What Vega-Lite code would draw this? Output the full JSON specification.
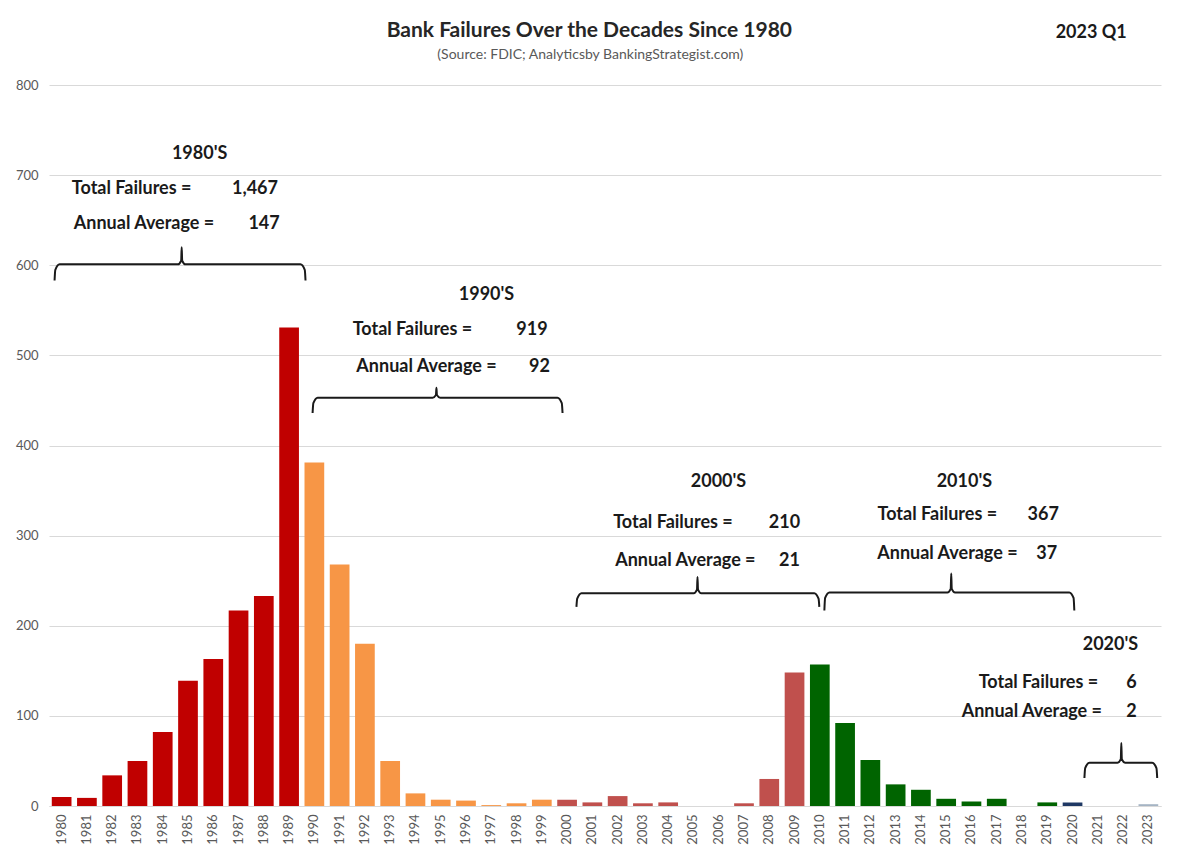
{
  "$schema": "https://vega.github.io/schema/vega-lite/v6.json",
  "width": 1112,
  "height": 721,
  "autosize": {"type": "none"},
  "padding": {"left": 49, "top": 85, "right": 17, "bottom": 57},
  "background": "white",
  "config": {"font": "Lato", "view": {"stroke": null}},
  "layer": [
    {
      "data": {"values": [
        {"year": "1980", "failures": 10, "period": "1980s"},
        {"year": "1981", "failures": 9, "period": "1980s"},
        {"year": "1982", "failures": 34, "period": "1980s"},
        {"year": "1983", "failures": 50, "period": "1980s"},
        {"year": "1984", "failures": 82, "period": "1980s"},
        {"year": "1985", "failures": 139, "period": "1980s"},
        {"year": "1986", "failures": 163, "period": "1980s"},
        {"year": "1987", "failures": 217, "period": "1980s"},
        {"year": "1988", "failures": 233, "period": "1980s"},
        {"year": "1989", "failures": 531, "period": "1980s"},
        {"year": "1990", "failures": 381, "period": "1990s"},
        {"year": "1991", "failures": 268, "period": "1990s"},
        {"year": "1992", "failures": 180, "period": "1990s"},
        {"year": "1993", "failures": 50, "period": "1990s"},
        {"year": "1994", "failures": 14, "period": "1990s"},
        {"year": "1995", "failures": 7, "period": "1990s"},
        {"year": "1996", "failures": 6, "period": "1990s"},
        {"year": "1997", "failures": 1, "period": "1990s"},
        {"year": "1998", "failures": 3, "period": "1990s"},
        {"year": "1999", "failures": 7, "period": "1990s"},
        {"year": "2000", "failures": 7, "period": "2000s"},
        {"year": "2001", "failures": 4, "period": "2000s"},
        {"year": "2002", "failures": 11, "period": "2000s"},
        {"year": "2003", "failures": 3, "period": "2000s"},
        {"year": "2004", "failures": 4, "period": "2000s"},
        {"year": "2005", "failures": 0, "period": "2000s"},
        {"year": "2006", "failures": 0, "period": "2000s"},
        {"year": "2007", "failures": 3, "period": "2000s"},
        {"year": "2008", "failures": 30, "period": "2000s"},
        {"year": "2009", "failures": 148, "period": "2000s"},
        {"year": "2010", "failures": 157, "period": "2010s"},
        {"year": "2011", "failures": 92, "period": "2010s"},
        {"year": "2012", "failures": 51, "period": "2010s"},
        {"year": "2013", "failures": 24, "period": "2010s"},
        {"year": "2014", "failures": 18, "period": "2010s"},
        {"year": "2015", "failures": 8, "period": "2010s"},
        {"year": "2016", "failures": 5, "period": "2010s"},
        {"year": "2017", "failures": 8, "period": "2010s"},
        {"year": "2018", "failures": 0, "period": "2010s"},
        {"year": "2019", "failures": 4, "period": "2010s"},
        {"year": "2020", "failures": 4, "period": "2020s"},
        {"year": "2021", "failures": 0, "period": "2020s"},
        {"year": "2022", "failures": 0, "period": "2020s"},
        {"year": "2023", "failures": 2, "period": "2023 Q1"}
      ]},
      "mark": {"type": "bar"},
      "encoding": {
        "x": {
          "field": "year", "type": "ordinal",
          "scale": {"paddingInner": 0.22, "paddingOuter": 0.11},
          "axis": {
            "title": null, "labelAngle": -90, "labelFontSize": 13, "labelColor": "#595959",
            "labelFont": "Lato", "ticks": false, "domain": true, "domainColor": "#d9d9d9",
            "labelPadding": 8, "grid": false
          }
        },
        "y": {
          "field": "failures", "type": "quantitative",
          "scale": {"domain": [0, 800], "nice": false},
          "axis": {
            "title": null, "values": [0, 100, 200, 300, 400, 500, 600, 700, 800],
            "labelFontSize": 13, "labelColor": "#595959", "labelFont": "Lato",
            "ticks": false, "domain": false, "labelPadding": 11,
            "gridColor": "#d9d9d9", "gridWidth": 1
          }
        },
        "color": {
          "field": "period", "type": "nominal", "legend": null,
          "scale": {
            "domain": ["1980s", "1990s", "2000s", "2010s", "2020s", "2023 Q1"],
            "range": ["#C00000", "#F79646", "#C0504D", "#006400", "#1F3864", "#A5B4C4"]
          }
        }
      }
    },
    {
      "data": {"values": [
        {"brace": "1980s", "x": 1979.72, "y": 583}, {"brace": "1980s", "x": 1979.75, "y": 595}, {"brace": "1980s", "x": 1979.92, "y": 601},
        {"brace": "1980s", "x": 1984.6, "y": 601}, {"brace": "1980s", "x": 1984.73, "y": 605}, {"brace": "1980s", "x": 1984.75, "y": 620},
        {"brace": "1980s", "x": 1984.77, "y": 605}, {"brace": "1980s", "x": 1984.9, "y": 601}, {"brace": "1980s", "x": 1989.45, "y": 601},
        {"brace": "1980s", "x": 1989.62, "y": 595}, {"brace": "1980s", "x": 1989.65, "y": 583},
        {"brace": "1990s", "x": 1989.93, "y": 436}, {"brace": "1990s", "x": 1989.96, "y": 447}, {"brace": "1990s", "x": 1990.13, "y": 453},
        {"brace": "1990s", "x": 1994.68, "y": 453}, {"brace": "1990s", "x": 1994.81, "y": 456}, {"brace": "1990s", "x": 1994.83, "y": 464},
        {"brace": "1990s", "x": 1994.85, "y": 456}, {"brace": "1990s", "x": 1994.98, "y": 453}, {"brace": "1990s", "x": 1999.62, "y": 453},
        {"brace": "1990s", "x": 1999.79, "y": 447}, {"brace": "1990s", "x": 1999.82, "y": 436},
        {"brace": "2000s", "x": 2000.37, "y": 221}, {"brace": "2000s", "x": 2000.40, "y": 230}, {"brace": "2000s", "x": 2000.57, "y": 236},
        {"brace": "2000s", "x": 2005.01, "y": 236}, {"brace": "2000s", "x": 2005.14, "y": 240}, {"brace": "2000s", "x": 2005.16, "y": 254},
        {"brace": "2000s", "x": 2005.18, "y": 240}, {"brace": "2000s", "x": 2005.31, "y": 236}, {"brace": "2000s", "x": 2009.78, "y": 236},
        {"brace": "2000s", "x": 2009.95, "y": 230}, {"brace": "2000s", "x": 2009.98, "y": 221},
        {"brace": "2010s", "x": 2010.18, "y": 217}, {"brace": "2010s", "x": 2010.21, "y": 231}, {"brace": "2010s", "x": 2010.38, "y": 237},
        {"brace": "2010s", "x": 2015.05, "y": 237}, {"brace": "2010s", "x": 2015.18, "y": 241}, {"brace": "2010s", "x": 2015.20, "y": 258},
        {"brace": "2010s", "x": 2015.22, "y": 241}, {"brace": "2010s", "x": 2015.35, "y": 237}, {"brace": "2010s", "x": 2019.87, "y": 237},
        {"brace": "2010s", "x": 2020.04, "y": 231}, {"brace": "2010s", "x": 2020.07, "y": 217},
        {"brace": "2020s", "x": 2020.47, "y": 31}, {"brace": "2020s", "x": 2020.50, "y": 42}, {"brace": "2020s", "x": 2020.67, "y": 48},
        {"brace": "2020s", "x": 2021.78, "y": 48}, {"brace": "2020s", "x": 2021.91, "y": 52}, {"brace": "2020s", "x": 2021.93, "y": 70},
        {"brace": "2020s", "x": 2021.95, "y": 52}, {"brace": "2020s", "x": 2022.08, "y": 48}, {"brace": "2020s", "x": 2023.15, "y": 48},
        {"brace": "2020s", "x": 2023.32, "y": 42}, {"brace": "2020s", "x": 2023.35, "y": 31}
      ]},
      "mark": {"type": "line", "color": "#1a1a1a", "strokeWidth": 2, "interpolate": "monotone"},
      "encoding": {
        "x": {"field": "x", "type": "quantitative", "scale": {"domain": [1979.5, 2023.5], "nice": false, "zero": false}, "axis": null},
        "y": {"field": "y", "type": "quantitative", "scale": {"domain": [0, 800], "nice": false},
          "axis": {
            "title": null, "values": [0, 100, 200, 300, 400, 500, 600, 700, 800],
            "labelFontSize": 13, "labelColor": "#595959", "labelFont": "Lato",
            "ticks": false, "domain": false, "labelPadding": 11,
            "gridColor": "#d9d9d9", "gridWidth": 1
          }},
        "detail": {"field": "brace", "type": "nominal"}
      }
    },
    {
      "data": {"values": [
        {"x": 1985.46, "y": 723.4, "label": "1980'S"},
        {"x": 1982.77, "y": 685.0, "label": "Total Failures ="},
        {"x": 1987.65, "y": 685.0, "label": "1,467"},
        {"x": 1983.26, "y": 646.2, "label": "Annual Average ="},
        {"x": 1988.01, "y": 646.2, "label": "147"},
        {"x": 1996.81, "y": 567.0, "label": "1990'S"},
        {"x": 1993.88, "y": 528.1, "label": "Total Failures ="},
        {"x": 1998.61, "y": 528.1, "label": "919"},
        {"x": 1994.44, "y": 487.1, "label": "Annual Average ="},
        {"x": 1998.91, "y": 487.1, "label": "92"},
        {"x": 2005.99, "y": 359.5, "label": "2000'S"},
        {"x": 2004.19, "y": 314.0, "label": "Total Failures ="},
        {"x": 2008.60, "y": 314.0, "label": "210"},
        {"x": 2004.68, "y": 271.8, "label": "Annual Average ="},
        {"x": 2008.80, "y": 271.8, "label": "21"},
        {"x": 2015.72, "y": 359.5, "label": "2010'S"},
        {"x": 2014.65, "y": 322.9, "label": "Total Failures ="},
        {"x": 2018.84, "y": 322.9, "label": "367"},
        {"x": 2015.05, "y": 279.6, "label": "Annual Average ="},
        {"x": 2018.98, "y": 279.6, "label": "37"},
        {"x": 2021.50, "y": 178.6, "label": "2020'S"},
        {"x": 2018.65, "y": 136.5, "label": "Total Failures ="},
        {"x": 2022.33, "y": 136.5, "label": "6"},
        {"x": 2018.39, "y": 104.3, "label": "Annual Average ="},
        {"x": 2022.33, "y": 104.3, "label": "2"},
        {"x": 2020.74, "y": 857.6, "label": "2023    Q1"}
      ]},
      "mark": {"type": "text", "font": "Lato", "fontSize": 18, "fontWeight": "bold", "color": "#1a1a1a", "align": "center", "baseline": "middle"},
      "encoding": {
        "x": {"field": "x", "type": "quantitative", "scale": {"domain": [1979.5, 2023.5], "nice": false, "zero": false}, "axis": null},
        "y": {"field": "y", "type": "quantitative", "scale": {"domain": [0, 800], "nice": false},
          "axis": {
            "title": null, "values": [0, 100, 200, 300, 400, 500, 600, 700, 800],
            "labelFontSize": 13, "labelColor": "#595959", "labelFont": "Lato",
            "ticks": false, "domain": false, "labelPadding": 11,
            "gridColor": "#d9d9d9", "gridWidth": 1
          }},
        "text": {"field": "label", "type": "nominal"}
      }
    },
    {
      "data": {"values": [
        {"x": 2000.88, "y": 859.9, "label": "Bank Failures Over the Decades Since 1980"}
      ]},
      "mark": {"type": "text", "font": "Lato", "fontSize": 21, "fontWeight": "bold", "color": "#262626", "align": "center", "baseline": "middle"},
      "encoding": {
        "x": {"field": "x", "type": "quantitative", "scale": {"domain": [1979.5, 2023.5], "nice": false, "zero": false}, "axis": null},
        "y": {"field": "y", "type": "quantitative", "scale": {"domain": [0, 800], "nice": false},
          "axis": {
            "title": null, "values": [0, 100, 200, 300, 400, 500, 600, 700, 800],
            "labelFontSize": 13, "labelColor": "#595959", "labelFont": "Lato",
            "ticks": false, "domain": false, "labelPadding": 11,
            "gridColor": "#d9d9d9", "gridWidth": 1
          }},
        "text": {"field": "label", "type": "nominal"}
      }
    },
    {
      "data": {"values": [
        {"x": 2000.92, "y": 833.2, "label": "(Source: FDIC; Analyticsby BankingStrategist.com)"}
      ]},
      "mark": {"type": "text", "font": "Lato", "fontSize": 14, "color": "#595959", "align": "center", "baseline": "middle"},
      "encoding": {
        "x": {"field": "x", "type": "quantitative", "scale": {"domain": [1979.5, 2023.5], "nice": false, "zero": false}, "axis": null},
        "y": {"field": "y", "type": "quantitative", "scale": {"domain": [0, 800], "nice": false},
          "axis": {
            "title": null, "values": [0, 100, 200, 300, 400, 500, 600, 700, 800],
            "labelFontSize": 13, "labelColor": "#595959", "labelFont": "Lato",
            "ticks": false, "domain": false, "labelPadding": 11,
            "gridColor": "#d9d9d9", "gridWidth": 1
          }},
        "text": {"field": "label", "type": "nominal"}
      }
    }
  ],
  "resolve": {"scale": {"x": "independent"}}
}
